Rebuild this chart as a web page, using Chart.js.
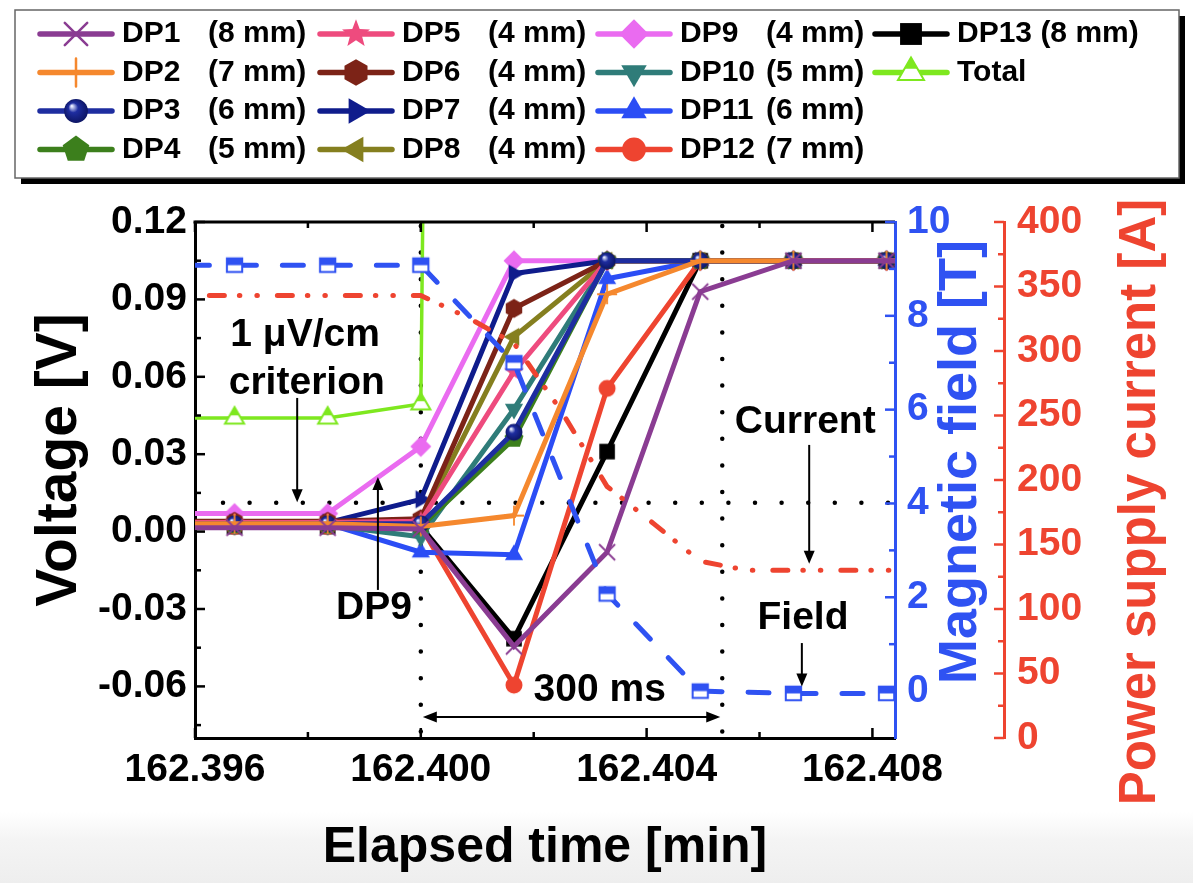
<!DOCTYPE html>
<html><head><meta charset="utf-8">
<script src="https://cdn.jsdelivr.net/npm/chart.js@4/dist/chart.umd.min.js"></script>
<style>html,body{margin:0;padding:0;background:#fff;overflow:hidden}canvas{display:block}</style>
</head><body>
<canvas id="c" width="1193" height="883" style="width:1193px;height:883px"></canvas>
<script>
// ---------------- data ----------------
const times = [162.39505, 162.3967, 162.39835, 162.4000, 162.40165, 162.4033, 162.40495, 162.4066, 162.40825, 162.4099];
const dp1  = [0.0015, 0.0015, 0.0015, 0.001, -0.0445, -0.008, 0.093, 0.105, 0.105, 0.105];
const dp2  = [0.003, 0.003, 0.003, 0.002, 0.0062, 0.092, 0.105, 0.105, 0.105, 0.105];
const dp3  = [0.003, 0.003, 0.003, 0.003, 0.0385, 0.105, 0.105, 0.105, 0.105, 0.105];
const dp4  = [0.0025, 0.0025, 0.0025, 0.002, 0.036, 0.105, 0.105, 0.105, 0.105, 0.105];
const dp5  = [0.0035, 0.0035, 0.0035, 0.004, 0.062, 0.105, 0.105, 0.105, 0.105, 0.105];
const dp6  = [0.004, 0.004, 0.004, 0.005, 0.0865, 0.105, 0.105, 0.105, 0.105, 0.105];
const dp7  = [0.0035, 0.0035, 0.0035, 0.0125, 0.100, 0.105, 0.105, 0.105, 0.105, 0.105];
const dp8  = [0.003, 0.003, 0.003, 0.004, 0.0755, 0.105, 0.105, 0.105, 0.105, 0.105];
const dp9  = [0.007, 0.007, 0.007, 0.033, 0.105, 0.105, 0.105, 0.105, 0.105, 0.105];
const dp10 = [0.0025, 0.0025, 0.0025, -0.002, 0.0475, 0.105, 0.105, 0.105, 0.105, 0.105];
const dp11 = [0.003, 0.003, 0.003, -0.008, -0.009, 0.098, 0.105, 0.105, 0.105, 0.105];
const dp12 = [0.002, 0.002, 0.002, 0.002, -0.0595, 0.0555, 0.105, 0.105, 0.105, 0.105];
const dp13 = [0.002, 0.002, 0.002, 0.002, -0.0415, 0.031, 0.105, 0.105, 0.105, 0.105];
const totalV = [0.044, 0.044, 0.044, 0.0495, 3.5, 3.5, 3.5, 3.5, 3.5, 3.5];
const fieldT = [9.08, 9.08, 9.08, 9.08, 7.0, 2.07, 0.0, -0.05, -0.05, -0.05];
const currentTimes = [162.39505, 162.3967, 162.39835, 162.4000, 162.40083, 162.40165, 162.40248, 162.4033, 162.40413, 162.40495, 162.40578, 162.4066, 162.40825, 162.4099];
const currentA = [343, 343, 343, 343, 326, 306, 254, 195, 166, 137, 130, 130, 130, 130];

const seriesNames = ['DP1','DP2','DP3','DP4','DP5','DP6','DP7','DP8','DP9','DP10','DP11','DP12','DP13'];
const seriesSizes = ['(8 mm)','(7 mm)','(6 mm)','(5 mm)','(4 mm)','(4 mm)','(4 mm)','(4 mm)','(4 mm)','(5 mm)','(6 mm)','(7 mm)','(8 mm)'];
const totalName = 'Total';

const xTicks = [162.396, 162.400, 162.404, 162.408];
const xTickLabels = ['162.396', '162.400', '162.404', '162.408'];
const xMinorTicks = [162.398, 162.402, 162.406];
const vTicks = [-0.06, -0.03, 0.00, 0.03, 0.06, 0.09, 0.12];
const vTickLabels = ['-0.06', '-0.03', '0.00', '0.03', '0.06', '0.09', '0.12'];
const vMinorTicks = [-0.075, -0.045, -0.015, 0.015, 0.045, 0.075, 0.105];
const bTicks = [0, 2, 4, 6, 8, 10];
const bTickLabels = ['0', '2', '4', '6', '8', '10'];
const bMinorTicks = [1, 3, 5, 7, 9];
const iTicks = [0, 50, 100, 150, 200, 250, 300, 350, 400];
const iTickLabels = ['0', '50', '100', '150', '200', '250', '300', '350', '400'];
const iMinorTicks = [25, 75, 125, 175, 225, 275, 325, 375];

// annotations (data coordinates)
const criterionV = 0.0112;
const guideTimes = [162.4000, 162.40534];
const spanArrow = {t1: 162.4000, t2: 162.40534, v: -0.0719};
const noteTexts = [
  {text: '1 \u03bcV/cm', t: 162.39795, v: 0.0762},
  {text: 'criterion', t: 162.39798, v: 0.0576},
  {text: 'DP9', t: 162.39917, v: -0.0296},
  {text: 'Current', t: 162.40681, v: 0.0425},
  {text: 'Field', t: 162.40677, v: -0.0336},
  {text: '300 ms', t: 162.40317, v: -0.0614}
];
const noteArrows = [
  {t: 162.39781, v1: 0.0518, v2: 0.0114},
  {t: 162.39924, v1: -0.0226, v2: 0.0212},
  {t: 162.40688, v1: 0.0336, v2: -0.0125},
  {t: 162.40675, v1: -0.0432, v2: -0.0600}
];

// ---------------- styles ----------------
const FONT = "'Liberation Sans', Arial, Helvetica, sans-serif";
const dpColors = ['#8A3C92','#F5882E','#1E2DA0','#3C7F1C','#EE4B7E','#7C2317','#0F1C8C','#857F1F','#EA6BF0','#2F7C79','#2B4DF5','#EE4430','#000000'];
const dpShapes = ['x','plus','ball','pentagon','star','hexagon','triR','triL','diamond','triD','triU','circle','square'];
const totalColor = '#7EE81F';
const fieldColor = '#2F52F2';
const currentColor = '#EE4430';

function drawShape(ctx, shape, x, y, r, color) {
  ctx.save();
  ctx.fillStyle = color; ctx.strokeStyle = color; ctx.setLineDash([]);
  const path = pts => { ctx.beginPath(); pts.forEach((p, i) => { if (i) ctx.lineTo(x + p[0], y + p[1]); else ctx.moveTo(x + p[0], y + p[1]); }); ctx.closePath(); };
  const reg = (n, rr, rot) => Array.from({length: n}, (_, i) => { const a = rot + i * 2 * Math.PI / n; return [rr * Math.cos(a), rr * Math.sin(a)]; });
  switch (shape) {
    case 'x': { ctx.lineWidth = Math.max(1.5, r * 0.18); const d = r * 0.8; ctx.beginPath(); ctx.moveTo(x - d, y - d); ctx.lineTo(x + d, y + d); ctx.moveTo(x + d, y - d); ctx.lineTo(x - d, y + d); ctx.stroke(); break; }
    case 'plus': { ctx.lineWidth = Math.max(1.5, r * 0.18); ctx.beginPath(); ctx.moveTo(x, y - r); ctx.lineTo(x, y + r); ctx.moveTo(x - r, y); ctx.lineTo(x + r, y); ctx.stroke(); break; }
    case 'ball': { const g = ctx.createRadialGradient(x - r * 0.3, y - r * 0.35, r * 0.05, x, y, r * 0.9); g.addColorStop(0, '#e6eaff'); g.addColorStop(0.35, color); g.addColorStop(1, '#0c1460'); ctx.fillStyle = g; ctx.beginPath(); ctx.arc(x, y, r * 0.85, 0, 2 * Math.PI); ctx.fill(); break; }
    case 'pentagon': path(reg(5, r, -Math.PI / 2)); ctx.fill(); break;
    case 'star': { const pts = []; for (let i = 0; i < 10; i++) { const a = -Math.PI / 2 + i * Math.PI / 5; const rr = i % 2 ? r * 0.45 : r * 1.05; pts.push([rr * Math.cos(a), rr * Math.sin(a)]); } path(pts); ctx.fill(); break; }
    case 'hexagon': path(reg(6, r * 0.95, -Math.PI / 2)); ctx.fill(); break;
    case 'triR': path(reg(3, r * 1.05, 0)); ctx.fill(); break;
    case 'triL': path(reg(3, r * 1.05, Math.PI)); ctx.fill(); break;
    case 'triD': path(reg(3, r * 1.05, Math.PI / 2)); ctx.fill(); break;
    case 'triU': path(reg(3, r * 1.05, -Math.PI / 2)); ctx.fill(); break;
    case 'diamond': path([[0, -r * 1.05], [r * 1.05, 0], [0, r * 1.05], [-r * 1.05, 0]]); ctx.fill(); break;
    case 'circle': ctx.beginPath(); ctx.arc(x, y, r * 0.85, 0, 2 * Math.PI); ctx.fill(); break;
    case 'square': { const s = r * 0.78; ctx.fillRect(x - s, y - s, 2 * s, 2 * s); break; }
    case 'triHalf': {
      const pts = reg(3, r, -Math.PI / 2);
      path(pts); ctx.fillStyle = '#fff'; ctx.fill();
      ctx.save(); path(pts); ctx.clip(); ctx.fillStyle = color; ctx.fillRect(x - r, y - r, 2 * r, 0.75 * r); ctx.restore();
      ctx.lineWidth = 2; path(pts); ctx.stroke(); break; }
    case 'sqHalf': {
      const w = r * 0.9, h = r * 0.8;
      ctx.fillStyle = '#fff'; ctx.fillRect(x - w, y - h, 2 * w, 2 * h);
      ctx.fillStyle = color; ctx.fillRect(x - w, y - h, 2 * w, h);
      ctx.lineWidth = 2; ctx.strokeRect(x - w, y - h, 2 * w, 2 * h); break; }
  }
  ctx.restore();
}
function makeMarker(shape, color, r) {
  const pad = 3, size = Math.ceil(2 * r + 2 * pad);
  const cv = document.createElement('canvas'); cv.width = size; cv.height = size;
  drawShape(cv.getContext('2d'), shape, size / 2, size / 2, r, color);
  return cv;
}

// ---------------- datasets ----------------
const dpSeries = [dp1, dp2, dp3, dp4, dp5, dp6, dp7, dp8, dp9, dp10, dp11, dp12, dp13];
const datasets = dpSeries.map((vals, i) => ({
  label: seriesNames[i] + ' ' + seriesSizes[i],
  data: times.map((t, k) => ({x: t, y: vals[k]})),
  borderColor: dpColors[i], backgroundColor: dpColors[i],
  borderWidth: 5, pointStyle: makeMarker(dpShapes[i], dpColors[i], 10), pointRadius: 10,
  yAxisID: 'y', order: 0, tension: 0
}));
datasets.push({
  label: totalName, data: times.map((t, k) => ({x: t, y: totalV[k]})),
  borderColor: totalColor, backgroundColor: totalColor, borderWidth: 3.5,
  pointStyle: makeMarker('triHalf', totalColor, 11), pointRadius: 10, yAxisID: 'y', order: 0
});
datasets.push({
  label: 'Field', data: times.map((t, k) => ({x: t, y: fieldT[k]})),
  borderColor: fieldColor, backgroundColor: fieldColor, borderWidth: 5, borderDash: [21, 26], borderCapStyle: 'round',
  pointStyle: makeMarker('sqHalf', fieldColor, 8.5), pointRadius: 8, yAxisID: 'yB', order: -1
});
datasets.push({
  label: 'Current', data: currentTimes.map((t, k) => ({x: t, y: currentA[k]})),
  borderColor: currentColor, backgroundColor: currentColor, borderWidth: 5, borderDash: [15, 15, 0.5, 17, 0.5, 20], borderCapStyle: 'round',
  pointRadius: 0, yAxisID: 'yI', order: -1
});

// ---------------- plugin ----------------
function arrowHead(ctx, x, y, dx, dy, len, half) {
  const n = Math.hypot(dx, dy); const ux = dx / n, uy = dy / n;
  ctx.beginPath(); ctx.moveTo(x, y);
  ctx.lineTo(x - ux * len - uy * half, y - uy * len + ux * half);
  ctx.lineTo(x - ux * len + uy * half, y - uy * len - ux * half);
  ctx.closePath(); ctx.fill();
}
const decor = {
  id: 'decor',
  beforeDraw(chart) {
    const ctx = chart.ctx;
    ctx.save();
    ctx.fillStyle = '#fff'; ctx.fillRect(0, 0, chart.width, chart.height);
    const g = ctx.createLinearGradient(0, 812, 0, 883);
    g.addColorStop(0, '#ffffff'); g.addColorStop(0.4, '#f4f4f4'); g.addColorStop(1, '#eeeeee');
    ctx.fillStyle = g; ctx.fillRect(0, 812, chart.width, 71);
    ctx.restore();
  },
  beforeDatasetsDraw(chart) {
    const {ctx, chartArea: a, scales: {x, y}} = chart;
    ctx.save();
    ctx.strokeStyle = '#000'; ctx.lineWidth = 4.5; ctx.lineCap = 'round'; ctx.setLineDash([0, 26.6]);
    const yc = y.getPixelForValue(criterionV);
    ctx.beginPath(); ctx.moveTo(a.left + 28, yc); ctx.lineTo(a.right, yc); ctx.stroke();
    guideTimes.forEach(t => { const px = x.getPixelForValue(t); ctx.beginPath(); ctx.moveTo(px, a.top + 4); ctx.lineTo(px, a.bottom - 4); ctx.stroke(); });
    ctx.restore();
  },
  afterDraw(chart) {
    const {ctx, chartArea: a, scales: {x, y, yB, yI}} = chart;
    ctx.save();
    // top border
    ctx.strokeStyle = '#000'; ctx.lineWidth = 3;
    ctx.beginPath(); ctx.moveTo(a.left - 1.5, a.top); ctx.lineTo(a.right, a.top); ctx.stroke();
    // inner ticks
    ctx.lineWidth = 2.5;
    const hl = (x1, y1, x2, y2, c) => { ctx.strokeStyle = c; ctx.beginPath(); ctx.moveTo(x1, y1); ctx.lineTo(x2, y2); ctx.stroke(); };
    vTicks.forEach(v => { const p = y.getPixelForValue(v); hl(a.left, p, a.left + 10, p, '#000'); });
    vMinorTicks.forEach(v => { const p = y.getPixelForValue(v); hl(a.left, p, a.left + 6, p, '#000'); });
    xTicks.forEach(t => { const p = x.getPixelForValue(t); hl(p, a.bottom, p, a.bottom - 10, '#000'); hl(p, a.top, p, a.top + 10, '#000'); });
    xMinorTicks.forEach(t => { const p = x.getPixelForValue(t); hl(p, a.bottom, p, a.bottom - 6, '#000'); hl(p, a.top, p, a.top + 6, '#000'); });
    bTicks.forEach(v => { const p = yB.getPixelForValue(v); hl(a.right, p, a.right - 10, p, fieldColor); });
    bMinorTicks.forEach(v => { const p = yB.getPixelForValue(v); hl(a.right, p, a.right - 6, p, fieldColor); });
    const rx = yI.left;
    iTicks.forEach(v => { const p = yI.getPixelForValue(v); hl(rx, p, rx - 10, p, currentColor); });
    iMinorTicks.forEach(v => { const p = yI.getPixelForValue(v); hl(rx, p, rx - 6, p, currentColor); });

    // annotations text
    ctx.fillStyle = '#000'; ctx.font = 'bold 39px ' + FONT; ctx.textAlign = 'center'; ctx.textBaseline = 'middle';
    noteTexts.forEach(n => ctx.fillText(n.text, x.getPixelForValue(n.t), y.getPixelForValue(n.v)));
    // arrows
    ctx.strokeStyle = '#000'; ctx.fillStyle = '#000'; ctx.lineWidth = 2;
    noteArrows.forEach(n => {
      const px = x.getPixelForValue(n.t), p1 = y.getPixelForValue(n.v1), p2 = y.getPixelForValue(n.v2);
      const dir = Math.sign(p2 - p1);
      ctx.beginPath(); ctx.moveTo(px, p1); ctx.lineTo(px, p2 - dir * 8); ctx.stroke();
      arrowHead(ctx, px, p2, 0, dir, 13, 5.5);
    });
    const sx1 = x.getPixelForValue(spanArrow.t1), sx2 = x.getPixelForValue(spanArrow.t2), sy = y.getPixelForValue(spanArrow.v);
    ctx.beginPath(); ctx.moveTo(sx1 + 8, sy); ctx.lineTo(sx2 - 8, sy); ctx.stroke();
    arrowHead(ctx, sx1 + 2, sy, -1, 0, 14, 5.5); arrowHead(ctx, sx2 - 2, sy, 1, 0, 14, 5.5);

    // axis titles
    ctx.font = 'bold 50px ' + FONT; ctx.fillStyle = '#000';
    ctx.fillText('Elapsed time [min]', (a.left + a.right) / 2, 848);
    const vtitle = (txt, cx, cy, col, size) => { ctx.save(); ctx.translate(cx, cy); ctx.rotate(-Math.PI / 2); ctx.font = 'bold ' + size + 'px ' + FONT; ctx.fillStyle = col; ctx.fillText(txt, 0, 0); ctx.restore(); };
    vtitle('Voltage [V]', 60, 460, '#000', 57);
    vtitle('Magnetic field [T]', 961, 462, fieldColor, 54);
    vtitle('Power supply current [A]', 1141, 502, currentColor, 51);

    // legend
    const bx = 15, by = 10, bw = 1164, bh = 168;
    ctx.fillStyle = '#000'; ctx.fillRect(bx + 6, by + 6, bw, bh);
    ctx.fillStyle = '#fff'; ctx.fillRect(bx, by, bw, bh);
    ctx.strokeStyle = '#666'; ctx.lineWidth = 1.5; ctx.strokeRect(bx, by, bw, bh);
    const colX = [38, 318, 596, 873], rowY = [34, 72.5, 111, 149.5];
    const items = seriesNames.map((nm, i) => ({name: nm, size: seriesSizes[i], color: dpColors[i], shape: dpShapes[i]}));
    items.push({name: totalName, size: '', color: totalColor, shape: 'triHalf'});
    ctx.textAlign = 'left'; ctx.textBaseline = 'middle'; ctx.font = 'bold 30px ' + FONT;
    items.forEach((it, i) => {
      const col = Math.floor(i / 4), row = i % 4, x0 = colX[col], yy = rowY[row];
      ctx.strokeStyle = it.color; ctx.lineWidth = 5.5; ctx.lineCap = 'round';
      ctx.beginPath(); ctx.moveTo(x0 + 2, yy); ctx.lineTo(x0 + 74, yy); ctx.stroke();
      drawShape(ctx, it.shape, x0 + 38, yy, it.shape === 'triHalf' ? 15 : 14, it.color);
      ctx.fillStyle = '#000';
      if (col < 3) { ctx.fillText(it.name, x0 + 84, yy); ctx.fillText(it.size, x0 + 170, yy); }
      else { ctx.fillText(it.size ? it.name + ' ' + it.size : it.name, x0 + 84, yy); }
    });
    ctx.restore();
  }
};

// ---------------- chart ----------------
Chart.defaults.font.family = FONT;
const tickFont = {size: 39, weight: 'bold', family: FONT};
new Chart(document.getElementById('c'), {
  type: 'line',
  data: {datasets},
  options: {
    responsive: false, animation: false, devicePixelRatio: 1,
    layout: {padding: {top: 222, left: 0, right: 0, bottom: 0}},
    plugins: {legend: {display: false}, tooltip: {enabled: false}},
    scales: {
      x: {
        type: 'linear', position: 'bottom', min: 162.396, max: 162.4084,
        afterBuildTicks: s => { s.ticks = xTicks.map(v => ({value: v})); },
        ticks: {callback: (v, i) => xTickLabels[i], color: '#000', font: tickFont, padding: 9, maxRotation: 0, autoSkip: false},
        grid: {drawOnChartArea: false, drawTicks: false},
        border: {display: true, color: '#000', width: 3},
        afterFit: s => { s.height = 145; }
      },
      y: {
        type: 'linear', position: 'left', min: -0.08, max: 0.12,
        afterBuildTicks: s => { s.ticks = vTicks.map(v => ({value: v})); },
        ticks: {callback: (v, i) => vTickLabels[i], color: '#000', font: tickFont, padding: 8, autoSkip: false},
        grid: {drawOnChartArea: false, drawTicks: false},
        border: {display: true, color: '#000', width: 3},
        afterFit: s => { s.width = 195; }
      },
      yB: {
        type: 'linear', position: 'right', min: -1, max: 10,
        afterBuildTicks: s => { s.ticks = bTicks.map(v => ({value: v})); },
        ticks: {callback: (v, i) => bTickLabels[i], color: fieldColor, font: tickFont, padding: 12, autoSkip: false},
        grid: {drawOnChartArea: false, drawTicks: false},
        border: {display: true, color: fieldColor, width: 3},
        afterFit: s => { s.width = 109; }
      },
      yI: {
        type: 'linear', position: 'right', min: 0, max: 400,
        afterBuildTicks: s => { s.ticks = iTicks.map(v => ({value: v})); },
        ticks: {callback: (v, i) => iTickLabels[i], color: currentColor, font: tickFont, padding: 13, autoSkip: false},
        grid: {drawOnChartArea: false, drawTicks: false},
        border: {display: true, color: currentColor, width: 3},
        afterFit: s => { s.width = 189; }
      }
    }
  },
  plugins: [decor]
});
</script>
</body></html>
